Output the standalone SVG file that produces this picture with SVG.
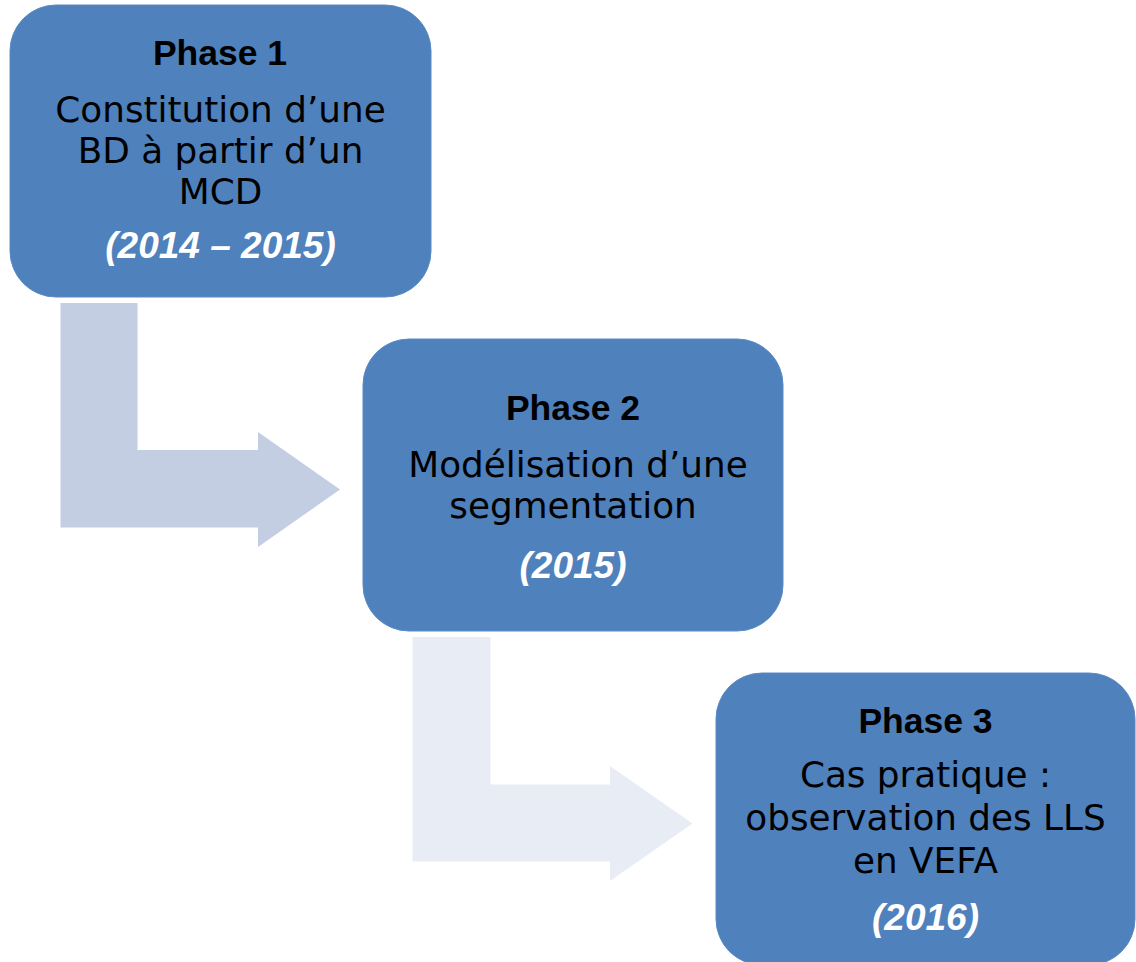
<svg xmlns="http://www.w3.org/2000/svg" width="1136" height="962" viewBox="0 0 1136 962">
<style>
.box{fill:#4f81bd;stroke:#5a8ac4;stroke-width:1}
.ttl{font-family:"Liberation Sans",Arial,sans-serif;font-weight:bold;font-size:35.5px;fill:#000;text-anchor:middle}
.body{font-family:"DejaVu Sans",Verdana,sans-serif;font-size:35.8px;fill:#000;text-anchor:middle}
.yr{font-family:"Liberation Sans",Arial,sans-serif;font-weight:bold;font-style:italic;font-size:37px;fill:#fff;text-anchor:middle}
</style>
<rect width="1136" height="962" fill="#fff"/>
<g id="connectors">
<path id="arrow1" d="M60.5,303 H137.5 V450 H258 V432 L340,489.5 L258,547 V527.5 H60.5 Z" fill="#c3cee3"/>
<path id="arrow2" d="M412.5,637 H490.5 V784.5 H610 V766 L692.5,823.5 L610,881 V861.5 H412.5 Z" fill="#e8edf5"/>
</g>
<g id="phase1">
<rect class="box" x="10" y="5" width="421" height="292" rx="46"/>
<text class="ttl" x="220" y="65">Phase 1</text>
<text class="body" x="220.5" y="122">Constitution d’une</text>
<text class="body" x="220.5" y="163">BD à partir d’un</text>
<text class="body" x="220.5" y="204">MCD</text>
<text class="yr" x="220.5" y="258">(2014 – 2015)</text>
</g>
<g id="phase2">
<rect class="box" x="363" y="339" width="420" height="292" rx="46"/>
<text class="ttl" x="573" y="420">Phase 2</text>
<text class="body" x="578" y="477">Modélisation d’une</text>
<text class="body" x="573" y="518">segmentation</text>
<text class="yr" x="573" y="578">(2015)</text>
</g>
<g id="phase3">
<rect class="box" x="716" y="673" width="419" height="292" rx="46"/>
<text class="ttl" x="925.5" y="733">Phase 3</text>
<text class="body" x="925.5" y="787">Cas pratique :</text>
<text class="body" x="925.5" y="830">observation des LLS</text>
<text class="body" x="925.5" y="873">en VEFA</text>
<text class="yr" x="925.5" y="930">(2016)</text>
</g>
</svg>
